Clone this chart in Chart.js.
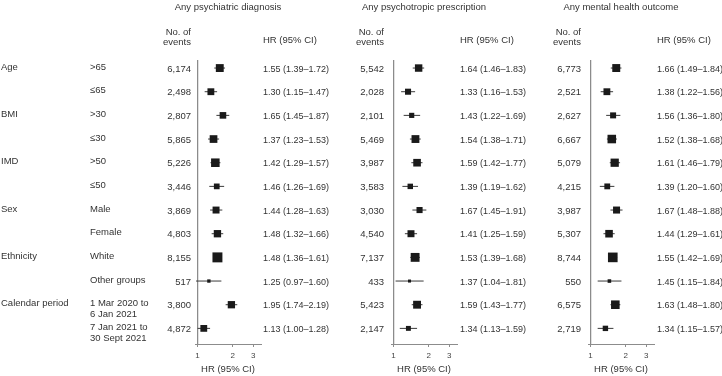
<!DOCTYPE html>
<html><head><meta charset="utf-8">
<script src="https://cdn.jsdelivr.net/npm/chart.js@4"></script>
<style>
html,body{margin:0;padding:0;background:#fff;width:722px;height:376px;overflow:hidden}
canvas{position:absolute;top:0}
</style></head><body>
<canvas id="c1" width="335" height="376" style="left:0px"></canvas>
<canvas id="c2" width="195" height="376" style="left:335px"></canvas>
<canvas id="c3" width="192" height="376" style="left:530px"></canvas>
<script>
// ---- data ----
const groupLabels = ["Age","","BMI","","IMD","","Sex","","Ethnicity","","Calendar period",""];
const subgroupLabels = [">65","≤65",">30","≤30",">50","≤50","Male","Female","White","Other groups",["1 Mar 2020 to","6 Jan 2021"],["7 Jan 2021 to","30 Sept 2021"]];
const panelTitles = ["Any psychiatric diagnosis","Any psychotropic prescription","Any mental health outcome"];
const xTicks = [1, 2, 3];

const diagEvents = [6174,2498,2807,5865,5226,3446,3869,4803,8155,517,3800,4872];
const diagHR     = [1.55,1.30,1.65,1.37,1.42,1.46,1.44,1.48,1.48,1.25,1.95,1.13];
const diagLo     = [1.39,1.15,1.45,1.23,1.29,1.26,1.28,1.32,1.36,0.97,1.74,1.00];
const diagHi     = [1.72,1.47,1.87,1.53,1.57,1.69,1.63,1.66,1.61,1.60,2.19,1.28];

const rxEvents = [5542,2028,2101,5469,3987,3583,3030,4540,7137,433,5423,2147];
const rxHR     = [1.64,1.33,1.43,1.54,1.59,1.39,1.67,1.41,1.53,1.37,1.59,1.34];
const rxLo     = [1.46,1.16,1.22,1.38,1.42,1.19,1.45,1.25,1.39,1.04,1.43,1.13];
const rxHi     = [1.83,1.53,1.69,1.71,1.77,1.62,1.91,1.59,1.68,1.81,1.77,1.59];

const mhEvents = [6773,2521,2627,6667,5079,4215,3987,5307,8744,550,6575,2719];
const mhHR     = [1.66,1.38,1.56,1.52,1.61,1.39,1.67,1.44,1.55,1.45,1.63,1.34];
const mhLo     = [1.49,1.22,1.36,1.38,1.46,1.20,1.48,1.29,1.42,1.15,1.48,1.15];
const mhHi     = [1.84,1.56,1.80,1.68,1.79,1.60,1.88,1.61,1.69,1.84,1.80,1.57];

// ---- layout ----
const FONT = '"Liberation Sans", Arial, sans-serif';
const TEXT = '#333333';
const AXIS = '#8c8c8c';
Chart.defaults.font.family = FONT;

const panels = [
  {id:'c1', left:0,   padL:195, padR:74, countRight:191, hrLeft:263, title:panelTitles[0], events:diagEvents, hr:diagHR, lo:diagLo, hi:diagHi, labels:true},
  {id:'c2', left:335, padL:56,  padR:73, countRight:384, hrLeft:460, title:panelTitles[1], events:rxEvents, hr:rxHR, lo:rxLo, hi:rxHi, labels:false},
  {id:'c3', left:530, padL:58,  padR:68, countRight:581, hrLeft:657, title:panelTitles[2], events:mhEvents, hr:mhHR, lo:mhLo, hi:mhHi, labels:false}
];

const fmt = v => v.toFixed(2);

panels.forEach(p => {
  const n = p.hr.length;
  const rows = p.hr.map((_, i) => i);
  const whiskers = rows.map(i => ({
    type: 'line',
    data: [{x: p.lo[i], y: i}, {x: p.hi[i], y: i}],
    borderColor: '#3a3a3a', borderWidth: 1, pointRadius: 0, order: 1, clip: false
  }));
  const refLine = {
    type: 'line',
    data: [{x: 1, y: -0.34}, {x: 1, y: n - 0.34}],
    borderColor: AXIS, borderWidth: 1, pointRadius: 0, order: 2
  };
  const squares = {
    type: 'scatter',
    data: rows.map(i => ({x: p.hr[i], y: i})),
    pointStyle: 'rect',
    pointRadius: ctx => {
      const i = ctx.dataIndex;
      const side = 1.68 / Math.log(p.hi[i] / p.lo[i]);
      return side / Math.SQRT2;
    },
    backgroundColor: '#1a1a1a', borderWidth: 0, order: 0
  };

  const textPlugin = {
    id: 'forestText',
    afterDraw(chart) {
      const ctx = chart.ctx;
      const ys = chart.scales.y;
      const ca = chart.chartArea;
      const L = p.left;
      ctx.save();
      ctx.fillStyle = TEXT;
      ctx.textBaseline = 'middle';
      ctx.font = '9.5px ' + FONT;
      // title
      ctx.textAlign = 'center';
      ctx.fillText(p.title, (ca.left + ca.right) / 2, 7);
      // headers
      ctx.textAlign = 'right';
      ctx.fillText('No. of', p.countRight - L, 32);
      ctx.fillText('events', p.countRight - L, 42);
      ctx.textAlign = 'left';
      ctx.fillText('HR (95% CI)', p.hrLeft - L, 40);
      rows.forEach(i => {
        const y = ys.getPixelForValue(i);
        ctx.font = '9.5px ' + FONT;
        ctx.textAlign = 'right';
        ctx.fillText(p.events[i].toLocaleString('en-US'), p.countRight - L, y + 1);
        ctx.textAlign = 'left';
        ctx.font = '9px ' + FONT;
        ctx.fillText(fmt(p.hr[i]) + ' (' + fmt(p.lo[i]) + '–' + fmt(p.hi[i]) + ')', p.hrLeft - L, y + 1);
        if (p.labels) {
          ctx.font = '9.5px ' + FONT;
          const lab = subgroupLabels[i];
          const lines = Array.isArray(lab) ? lab : [lab];
          lines.forEach((t, k) => ctx.fillText(t, 90 - L, y - 1 + k * 11));
          if (groupLabels[i]) ctx.fillText(groupLabels[i], 1 - L, y - 1);
        }
      });
      ctx.restore();
    }
  };

  new Chart(document.getElementById(p.id), {
    type: 'scatter',
    data: { datasets: [squares, ...whiskers, refLine] },
    options: {
      responsive: false,
      animation: false,
      events: [],
      layout: { padding: { left: p.padL, right: p.padR, top: 60, bottom: 0 } },
      plugins: { legend: { display: false }, tooltip: { enabled: false } },
      scales: {
        x: {
          type: 'logarithmic',
          min: 0.95, max: 3.5,
          afterBuildTicks: axis => { axis.ticks = xTicks.map(v => ({value: v})); },
          afterFit: scale => { scale.height = 32; },
          ticks: {
            callback: v => String(v),
            font: { size: 8, family: FONT }, color: '#444',
            padding: 4, maxRotation: 0, autoSkip: false
          },
          grid: { drawOnChartArea: false, drawTicks: true, tickLength: 3, color: AXIS },
          border: { display: true, color: AXIS, width: 1 },
          title: { display: true, text: 'HR (95% CI)', color: TEXT, font: { size: 9.5, family: FONT }, padding: { top: 0, bottom: 1.3 } }
        },
        y: {
          type: 'linear', reverse: true, min: -0.34, max: n - 0.34,
          display: false
        }
      }
    },
    plugins: [textPlugin]
  });
});
</script>
</body></html>
